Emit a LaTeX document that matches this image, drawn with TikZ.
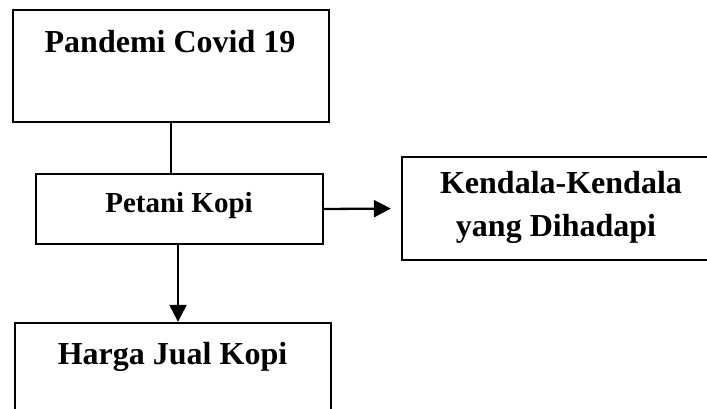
\documentclass[tikz,border=0pt]{standalone}
\usepackage{fontspec}
\setmainfont{Liberation Serif}
\usetikzlibrary{arrows.meta}
\tikzset{
  boxnode/.style={draw=black, line width=2.3pt, rectangle, inner sep=0pt, fill=white},
  txt/.style={inner sep=0pt, anchor=base, font=\bfseries\fontsize{32}{43}\selectfont},
  conn/.style={draw=black, line width=2.3pt},
  arr/.style={conn, -{Triangle[length=17pt,width=17pt]}}
}
\begin{document}
\begin{tikzpicture}[x=1pt,y=-1pt]
\useasboundingbox (0,0) rectangle (707,408);
\fill[white] (0,0) rectangle (707,408);
% boxes
\node[boxnode, minimum width=316pt, minimum height=112pt] (b1) at (171,66) {};
\node[boxnode, minimum width=287pt, minimum height=70pt] (b2) at (179.5,209) {};
\node[boxnode, minimum width=312pt, minimum height=103pt] (b3) at (558,208.5) {};
\node[boxnode, minimum width=316pt, minimum height=110pt] (b4) at (173,378) {};
% texts
\node[txt] (t1) at (170,52) {Pandemi Covid 19};
\node[txt, font=\bfseries\fontsize{29}{35}\selectfont] (t2) at (179,212) {Petani Kopi};
\node[txt] (t3a) at (561,193) {Kendala-Kendala};
\node[txt] (t3b) at (556,236) {yang Dihadapi};
\node[txt] (t4) at (172.5,364) {Harga Jual Kopi};
% connectors
\draw[conn] (b1.south) -- (b1.south |- b2.north);
\draw[arr, shorten >=10pt] (b2.east) -- (b3.west);
\draw[arr] ([xshift=-1.5pt]b2.south) -- ([xshift=-1.5pt]b2.south |- b4.north);
\end{tikzpicture}
\end{document}
